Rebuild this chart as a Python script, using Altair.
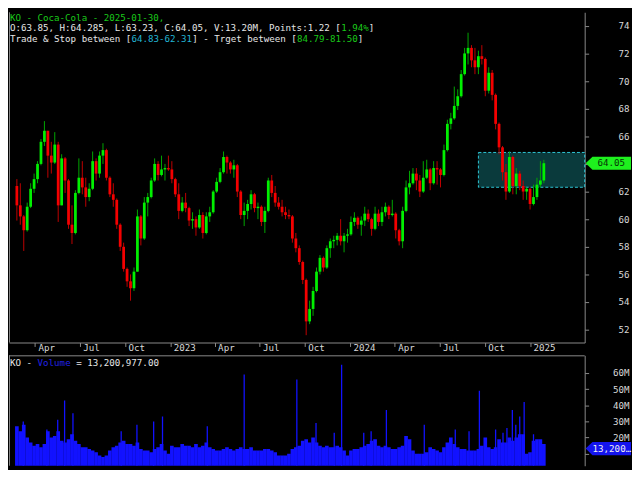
import altair as alt
import pandas as pd

# ---------------- data (weekly candles) ----------------
week_dates = pd.date_range("2022-02-23", periods=154, freq="7D").strftime("%Y-%m-%d").tolist()

opens = [62.4, 61.0, 60.2, 59.2, 60.9, 62.2, 62.9, 64.0, 65.6, 66.4,
         64.6, 64.1, 65.4, 61.0, 64.4, 62.8, 59.6, 59.0, 61.9, 63.0,
         62.3, 61.6, 62.2, 64.2, 63.3, 64.6, 65.0, 63.0, 61.8, 61.4,
         59.6, 58.0, 56.4, 55.5, 55.0, 56.2, 60.2, 58.6, 61.2, 61.6,
         62.8, 64.0, 63.2, 63.6, 63.7, 63.6, 62.9, 61.8, 60.6, 61.2,
         60.8, 59.9, 60.0, 59.4, 60.3, 59.0, 60.2, 60.5, 62.0, 62.7,
         63.4, 64.5, 64.1, 63.6, 63.9, 62.0, 60.3, 60.6, 61.1, 61.8,
         60.8, 60.9, 59.8, 60.6, 62.8, 61.9, 61.2, 60.9, 60.5, 60.3,
         60.2, 58.6, 57.9, 56.9, 55.6, 52.6, 53.5, 54.8, 56.2, 57.2,
         56.5, 57.9, 58.4, 58.5, 58.8, 58.4, 58.8, 58.9, 59.8, 60.1,
         59.6, 59.9, 60.4, 60.0, 59.3, 60.4, 59.8, 60.5, 60.9, 60.3,
         60.4, 59.2, 58.4, 60.6, 62.3, 62.6, 63.3, 62.8, 62.0, 63.0,
         63.6, 62.6, 63.7, 63.6, 63.2, 65.0, 66.9, 67.3, 68.2, 68.9,
         70.5, 72.0, 72.4, 71.5, 71.0, 71.8, 71.6, 69.3, 70.6, 69.0,
         66.9, 65.2, 63.4, 62.0, 64.5, 62.4, 63.3, 62.4, 62.0, 62.2,
         61.1, 61.6, 62.5, 62.8]

highs = [62.9, 62.6, 60.3, 61.2, 62.6, 63.3, 64.2, 65.8, 67.1, 66.4,
         65.6, 66.3, 65.6, 64.7, 64.5, 62.9, 61.0, 62.1, 64.4, 64.2,
         63.0, 62.6, 64.9, 64.4, 64.9, 65.5, 65.1, 63.1, 62.6, 61.5,
         59.7, 58.3, 56.5, 56.0, 56.5, 60.7, 60.3, 61.6, 61.9, 63.0,
         64.4, 64.2, 64.6, 64.0, 64.6, 64.2, 63.0, 62.6, 61.6, 61.9,
         60.9, 60.5, 60.2, 60.7, 60.5, 60.5, 60.9, 62.1, 63.0, 63.7,
         64.9, 64.6, 64.2, 64.3, 64.0, 62.1, 61.2, 61.4, 62.1, 61.9,
         61.2, 61.0, 60.9, 63.0, 63.2, 62.4, 61.6, 61.4, 60.9, 60.7,
         60.3, 59.0, 58.1, 57.0, 55.7, 54.1, 55.1, 56.5, 57.4, 57.3,
         58.1, 58.6, 58.8, 59.0, 60.0, 59.0, 59.3, 60.2, 60.5, 60.2,
         60.2, 60.9, 60.7, 60.1, 60.9, 60.7, 60.9, 61.2, 61.0, 61.4,
         60.5, 59.3, 60.9, 62.8, 63.5, 63.7, 63.7, 63.2, 64.2, 64.3,
         63.7, 64.2, 64.2, 63.7, 65.4, 67.2, 67.7, 69.6, 69.4, 70.8,
         72.4, 73.5, 72.6, 72.4, 72.2, 72.6, 71.7, 71.0, 70.8, 69.1,
         67.0, 65.3, 64.0, 64.9, 64.6, 63.7, 63.5, 62.8, 62.3, 62.3,
         62.5, 63.0, 64.2, 64.3]

lows = [59.9, 59.6, 57.7, 59.1, 60.8, 61.9, 62.6, 63.9, 65.3, 63.0,
        63.3, 64.0, 59.8, 61.0, 61.9, 59.3, 58.2, 58.9, 61.8, 61.8,
        60.9, 61.3, 62.1, 62.8, 63.0, 64.0, 62.8, 61.6, 60.9, 59.3,
        57.7, 56.2, 55.1, 54.1, 54.8, 56.2, 58.1, 58.5, 60.2, 61.5,
        62.7, 62.8, 63.1, 62.8, 63.5, 62.6, 61.6, 60.0, 60.5, 60.5,
        59.5, 59.3, 58.8, 59.3, 58.6, 58.9, 59.8, 60.4, 61.9, 62.6,
        63.3, 63.3, 63.3, 63.0, 61.6, 60.0, 59.5, 60.0, 60.7, 60.5,
        60.0, 59.5, 59.0, 60.5, 61.6, 60.9, 60.7, 60.2, 60.0, 60.0,
        58.3, 57.6, 56.7, 55.3, 51.6, 52.4, 53.0, 54.7, 56.0, 56.2,
        56.4, 57.2, 57.9, 58.1, 58.1, 57.6, 58.3, 58.8, 59.5, 59.3,
        58.8, 59.5, 59.8, 58.8, 59.2, 59.5, 59.5, 60.2, 60.0, 60.2,
        58.6, 58.1, 57.9, 60.5, 61.8, 62.5, 62.1, 61.6, 61.9, 62.9,
        62.1, 62.5, 62.5, 62.3, 63.1, 64.9, 66.5, 67.2, 67.9, 68.8,
        70.4, 71.2, 71.0, 70.5, 70.5, 71.2, 68.9, 69.1, 68.6, 66.5,
        64.7, 62.8, 61.4, 61.9, 61.8, 61.8, 62.1, 61.4, 61.4, 60.7,
        61.0, 61.4, 62.3, 62.6]

closes = [61.0, 60.2, 59.2, 60.9, 62.2, 62.9, 64.0, 65.6, 66.4, 64.6,
          64.1, 65.4, 61.0, 64.4, 62.8, 59.6, 59.0, 61.9, 63.0, 62.3,
          61.6, 62.2, 64.2, 63.3, 64.6, 65.0, 63.0, 61.8, 61.4, 59.6,
          58.0, 56.4, 55.5, 55.0, 56.2, 60.2, 58.6, 61.2, 61.6, 62.8,
          64.0, 63.2, 63.6, 63.7, 63.6, 62.9, 61.8, 60.6, 61.2, 60.8,
          59.9, 60.0, 59.4, 60.3, 59.0, 60.2, 60.5, 62.0, 62.7, 63.4,
          64.5, 64.1, 63.6, 63.9, 62.0, 60.3, 60.6, 61.1, 61.8, 60.8,
          60.9, 59.8, 60.6, 62.8, 61.9, 61.2, 60.9, 60.5, 60.3, 60.2,
          58.6, 57.9, 56.9, 55.6, 52.6, 53.5, 54.8, 56.2, 57.2, 56.5,
          57.9, 58.4, 58.5, 58.8, 58.4, 58.8, 58.9, 59.8, 60.1, 59.6,
          59.9, 60.4, 60.0, 59.3, 60.4, 59.8, 60.5, 60.9, 60.3, 60.4,
          59.2, 58.4, 60.6, 62.3, 62.6, 63.3, 62.8, 62.0, 63.0, 63.6,
          62.6, 63.7, 63.6, 63.2, 65.0, 66.9, 67.3, 68.2, 68.9, 70.5,
          72.0, 72.4, 71.5, 71.0, 71.8, 71.6, 69.3, 70.6, 69.0, 66.9,
          65.2, 63.4, 62.0, 64.5, 62.4, 63.3, 62.4, 62.0, 62.2, 61.1,
          61.6, 62.5, 62.8, 64.05]

# weekly typical volume (millions)
vol_week = [27, 24, 28, 20, 17, 15, 16, 14, 16, 24,
            20, 21, 24, 18, 17, 19, 22, 18, 16, 14,
            14, 13, 12, 11, 9, 8, 9, 12, 14, 15,
            17, 18, 16, 16, 15, 17, 13, 12, 12, 11,
            13, 14, 16, 12, 10, 15, 14, 14, 16, 15,
            15, 14, 16, 14, 15, 17, 14, 13, 12, 12,
            13, 14, 13, 12, 13, 14, 13, 13, 14, 12,
            12, 12, 13, 13, 12, 11, 9, 9, 9, 10,
            13, 14, 15, 18, 19, 17, 20, 17, 15, 14,
            15, 14, 14, 15, 14, 12, 9, 12, 13, 13,
            14, 15, 16, 18, 19, 15, 14, 15, 14, 13,
            13, 14, 15, 21, 19, 12, 10, 10, 10, 11,
            14, 13, 12, 11, 14, 17, 20, 16, 14, 13,
            13, 12, 12, 12, 13, 15, 20, 14, 13, 14,
            19, 17, 17, 20, 18, 20, 22, 22, 10, 11,
            18, 19, 19, 16]

# single-day volume spikes (millions)
spike_dates = ["2022-03-08", "2022-04-25", "2022-05-17", "2022-05-31", "2022-06-17",
               "2022-09-23", "2022-10-25", "2022-11-28", "2022-12-16", "2023-03-17",
               "2023-05-31", "2023-09-15", "2023-10-24", "2023-11-30", "2023-12-15",
               "2024-01-29", "2024-02-13", "2024-03-15", "2024-05-31", "2024-08-02",
               "2024-08-30", "2024-09-20", "2024-10-23", "2024-11-07", "2024-11-15",
               "2024-11-26", "2024-12-03", "2024-12-11", "2024-12-20", "2025-01-08"]
spike_vals = [30, 25, 31, 43, 35,
              24, 28, 30, 33, 27,
              59, 56, 29, 23, 65,
              23, 24, 37, 28, 25,
              24, 49, 25, 23, 26,
              37, 28, 33, 42, 22]

price_ticks = [52, 54, 56, 58, 60, 62, 64, 66, 68, 70, 72, 74]
vol_ticks = [10, 20, 30, 40, 50, 60]
quarter_ticks = ["2022-04-01", "2022-07-01", "2022-10-01", "2023-01-01",
                 "2023-04-01", "2023-07-01", "2023-10-01", "2024-01-01",
                 "2024-04-01", "2024-07-01", "2024-10-01", "2025-01-01"]

last_price = 64.05
last_price_txt = "64.05"
last_vol = 13.200977
last_vol_txt = "13,200,977.00"
box_start = "2024-09-18"
box_top = 64.83
box_bottom = 62.31

header_lines = [
    [("KO - Coca-Cola - 2025-01-30,", "green")],
    [("O:63.85, H:64.285, L:63.23, C:64.05, V:13.20M, Points:1.22 [", "white"),
     ("1.94%", "green"), ("]", "white")],
    [("Trade & Stop between [", "white"), ("64.83-62.31", "cyan"),
     ("] - Trget between [", "white"), ("84.79-81.50", "green"), ("]", "white")],
]
vol_legend = [("KO - ", "white"), ("Volume", "blue"), (" = 13,200,977.00", "white")]

# ---------------- style / layout ----------------
FONT = "DejaVu Sans Mono"
FS = 9.3
CW = 5.6
W = 584
H_MAIN = 335
H_VOL = 112
GAP = 13
GRAY = "#8a8a8a"
LABEL = "#d8d8d8"
TXT = {"white": "#e6e6e6", "green": "#1ac81a", "cyan": "#22b4d4", "blue": "#2020e6"}
UP_BODY, UP_WICK = "#00f000", "#00a800"
DN_BODY, DN_WICK = "#f40000", "#c00000"
VOL_BLUE = "#1212ff"
ARROW = "M -1 0 L -0.7 -0.29 L 1 -0.29 L 1 0.29 L -0.7 0.29 Z"


def dt(s):
    y, m, d = (int(v) for v in s.split("-"))
    return alt.DateTime(year=y, month=m, date=d, utc=True)


xscale = alt.Scale(type="utc", domain=[dt("2022-02-17"), dt("2025-04-12")])
yscale = alt.Scale(domain=[51.07, 74.98], nice=False, zero=False)
vscale = alt.Scale(domain=[2.6, 70.9], nice=False, zero=False)

xaxis = alt.Axis(orient="bottom", values=[dt(s) for s in quarter_ticks],
                 labelExpr="utcFormat(datum.value, '%m') == '01' ? utcFormat(datum.value, '%Y') : utcFormat(datum.value, '%b')",
                 labelAlign="left", labelBaseline="top", labelPadding=-3, labelOffset=3,
                 tickSize=4, title=None, labelFlush=False, labelOverlap=False)
# the tick label under the last-price / last-volume markers is hidden, as in the reference
yaxis = alt.Axis(orient="right", values=price_ticks,
                 labelExpr="datum.value == 64 ? '' : format(datum.value, 'd')",
                 labelAlign="right", labelBaseline="middle", labelPadding=41,
                 tickSize=4, title=None)
vaxis = alt.Axis(orient="right", values=vol_ticks,
                 labelExpr="datum.value == 10 ? '' : datum.value + 'M'",
                 labelAlign="right", labelBaseline="middle", labelPadding=41,
                 tickSize=4, title=None)

one = pd.DataFrame({"a": [0]})


def text_segments(lines, baselines):
    layers = []
    for line, yb in zip(lines, baselines):
        col = 0
        for txt, c in line:
            lead = len(txt) - len(txt.lstrip(" "))
            s = txt.strip(" ")
            if s:
                layers.append(alt.Chart(one).mark_text(
                    text=s, font=FONT, fontSize=FS, color=TXT[c],
                    align="left", baseline="alphabetic"
                ).encode(x=alt.value(1 + (col + lead) * CW), y=alt.value(yb)))
            col += len(txt)
    return layers


# ---------------- price panel ----------------
df = pd.DataFrame({"date": week_dates, "open": opens, "high": highs,
                   "low": lows, "close": closes})
up = "datum.close >= datum.open"

box_df = pd.DataFrame({"start": [box_start], "top": [box_top], "bottom": [box_bottom]})
box = alt.Chart(box_df).mark_rect(
    fill="#0a3a3c", stroke="#2ec6d6", strokeDash=[3, 2], strokeWidth=1
).encode(
    x=alt.X("start:T", scale=xscale, axis=xaxis),
    x2=alt.value(W),
    y=alt.Y("top:Q", scale=yscale, axis=yaxis),
    y2="bottom:Q",
)

wicks = alt.Chart(df).mark_rule(strokeWidth=1).encode(
    x=alt.X("date:T", scale=xscale, axis=xaxis),
    y=alt.Y("low:Q", scale=yscale, axis=yaxis),
    y2="high:Q",
    color=alt.condition(up, alt.value(UP_WICK), alt.value(DN_WICK)),
)
bodies = alt.Chart(df).mark_bar(width=2.8).encode(
    x=alt.X("date:T", scale=xscale, axis=xaxis),
    y=alt.Y("open:Q", scale=yscale, axis=yaxis),
    y2="close:Q",
    color=alt.condition(up, alt.value(UP_BODY), alt.value(DN_BODY)),
)

left_main = alt.Chart(one).mark_rule(color=GRAY, strokeWidth=1).encode(
    x=alt.value(0.5), y=alt.value(0), y2=alt.value(H_MAIN))

plab = pd.DataFrame({"price": [last_price], "txt": [last_price_txt]})
p_arrow = alt.Chart(plab).mark_point(
    shape=ARROW, size=2116, filled=True, fill="#1ef01e", opacity=1, strokeWidth=0
).encode(x=alt.value(608), y=alt.Y("price:Q", scale=yscale, axis=yaxis))
p_text = alt.Chart(plab).mark_text(
    font=FONT, fontSize=FS, color="#073307", align="center", baseline="middle"
).encode(x=alt.value(611), y=alt.Y("price:Q", scale=yscale, axis=yaxis), text="txt:N")

main = alt.layer(
    box, wicks, bodies, left_main, p_arrow, p_text,
    *text_segments(header_lines, [8.5, 19.5, 30.5])
).properties(width=W, height=H_MAIN)

# ---------------- volume panel ----------------
vdf = pd.DataFrame({"date": week_dates, "vol": vol_week})
sdf = pd.DataFrame({"date": spike_dates, "vol": spike_vals})

vbars = alt.Chart(vdf).mark_bar(width=3.7, clip=True, color=VOL_BLUE).encode(
    x=alt.X("date:T", scale=xscale, axis=None),
    y=alt.Y("vol:Q", scale=vscale, axis=vaxis),
)
vspikes = alt.Chart(sdf).mark_bar(width=1.3, clip=True, color=VOL_BLUE).encode(
    x=alt.X("date:T", scale=xscale, axis=None),
    y=alt.Y("vol:Q", scale=vscale, axis=vaxis),
)
left_vol = alt.Chart(one).mark_rule(color=GRAY, strokeWidth=1).encode(
    x=alt.value(0.5), y=alt.value(0), y2=alt.value(H_VOL))
top_vol = alt.Chart(one).mark_rule(color=GRAY, strokeWidth=1).encode(
    x=alt.value(0), x2=alt.value(W), y=alt.value(0.5))

vlab = pd.DataFrame({"vol": [last_vol], "txt": [last_vol_txt]})
v_arrow = alt.Chart(vlab).mark_point(
    shape=ARROW, size=2116, filled=True, fill="#1414ee", opacity=1, strokeWidth=0
).encode(x=alt.value(608), y=alt.Y("vol:Q", scale=vscale, axis=vaxis))
v_text = alt.Chart(vlab).mark_text(
    font=FONT, fontSize=FS, color="#f0f0f0", align="left", baseline="middle",
    limit=40, ellipsis=""
).encode(x=alt.value(592), y=alt.Y("vol:Q", scale=vscale, axis=vaxis), text="txt:N")

vol = alt.layer(
    vbars, vspikes, left_vol, top_vol, v_arrow, v_text,
    *text_segments([vol_legend], [10.5])
).properties(width=W, height=H_VOL)

chart = alt.vconcat(main, vol, spacing=GAP, bounds="flush").properties(
    padding=0, background="#000000"
).configure_view(stroke=None).configure_axis(
    labelFont=FONT, labelFontSize=FS, labelColor=LABEL,
    domainColor=GRAY, tickColor=GRAY, grid=False
)

chart.save("out.html", embed_options={"renderer": "svg", "actions": False})
